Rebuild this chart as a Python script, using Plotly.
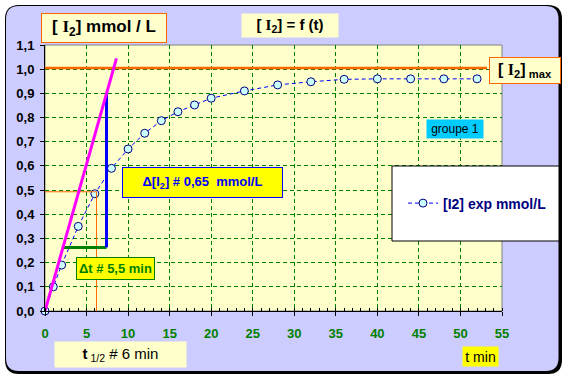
import plotly.graph_objects as go

# ---------------- data ----------------
t_min = [0, 1, 2, 4, 6, 8, 10, 12, 14, 16, 18, 20, 24, 28, 32, 36, 40, 44, 48, 52]
i2_exp = [0.0, 0.10, 0.19, 0.35, 0.485, 0.59, 0.67, 0.735, 0.787, 0.824, 0.852,
          0.88, 0.91, 0.935, 0.948, 0.958, 0.96, 0.96, 0.96, 0.96]

i2_max = 1.005
tangent_t = [0.0, 8.6]
tangent_c = [0.0, 1.045]
delta_c_t = [7.4, 7.4]
delta_c_c = [0.263, 0.9]
delta_t_t = [2.2, 7.4]
delta_t_c = [0.263, 0.263]
half_h_t = [-0.5, 6.2]
half_h_c = [0.493, 0.493]
half_v_t = [6.2, 6.2]
half_v_c = [0.493, -0.01]

x_range = [0, 55]
y_range = [0, 1.1]

# ---------------- geometry helpers (pixel -> paper) ----------------
W, H = 568, 380
L, R, T, B = 45, 502, 45, 311
PW, PH = R - L, B - T


def px(x):
    return (x - L) / PW


def py(y):
    return (B - y) / PH


def rrect(x0, y0, x1, y1, r):
    pts = [
        f"M {px(x0 + r)},{py(y0)}",
        f"L {px(x1 - r)},{py(y0)}",
        f"Q {px(x1)},{py(y0)} {px(x1)},{py(y0 + r)}",
        f"L {px(x1)},{py(y1 - r)}",
        f"Q {px(x1)},{py(y1)} {px(x1 - r)},{py(y1)}",
        f"L {px(x0 + r)},{py(y1)}",
        f"Q {px(x0)},{py(y1)} {px(x0)},{py(y1 - r)}",
        f"L {px(x0)},{py(y0 + r)}",
        f"Q {px(x0)},{py(y0)} {px(x0 + r)},{py(y0)}",
        "Z",
    ]
    return " ".join(pts)


FONT = "Liberation Sans"
SERIF_I = '<span style="font-family:\'Liberation Serif\'">I</span>'

fig = go.Figure()

# main data
fig.add_trace(go.Scatter(
    x=t_min, y=i2_exp, mode="lines+markers",
    name="<b>[I2] exp mmol/L</b>",
    line=dict(color="#0000FF", width=1, dash="4px,3px"),
    marker=dict(symbol="circle", size=8, color="#CCFFFF",
                line=dict(color="#000080", width=1)),
    cliponaxis=False,
))

# construction lines
fig.add_trace(go.Scatter(x=half_h_t, y=half_h_c, mode="lines", showlegend=False,
                         line=dict(color="#FF6600", width=1), cliponaxis=False))
fig.add_trace(go.Scatter(x=half_v_t, y=half_v_c, mode="lines", showlegend=False,
                         line=dict(color="#FF6600", width=1), cliponaxis=False))
fig.add_trace(go.Scatter(x=[x_range[0], 53.2], y=[i2_max, i2_max], mode="lines",
                         showlegend=False, line=dict(color="#FF6600", width=2.5),
                         cliponaxis=False))
fig.add_trace(go.Scatter(x=delta_t_t, y=delta_t_c, mode="lines", showlegend=False,
                         line=dict(color="#008000", width=3)))
fig.add_trace(go.Scatter(x=delta_c_t, y=delta_c_c, mode="lines", showlegend=False,
                         line=dict(color="#0000FF", width=3)))
fig.add_trace(go.Scatter(x=tangent_t, y=tangent_c, mode="lines", showlegend=False,
                         line=dict(color="#FF00FF", width=3), cliponaxis=False))

shapes = [
    # frame shadow / border
    dict(type="path", xref="paper", yref="paper", layer="below",
         path=rrect(5, 5, 562, 374, 14), fillcolor="black", line=dict(width=0)),
    dict(type="path", xref="paper", yref="paper", layer="below",
         path=rrect(6, 6, 558.5, 371, 13), fillcolor="#CCCCFF", line=dict(width=0)),
    # plot area
    dict(type="rect", xref="paper", yref="paper", layer="below",
         x0=0, y0=0, x1=1, y1=1, fillcolor="#FFFFCC",
         line=dict(color="#808080", width=1)),
    # legend box
    dict(type="rect", xref="paper", yref="paper", layer="above",
         x0=px(392), x1=px(559), y0=py(241), y1=py(166), fillcolor="white",
         line=dict(color="black", width=1)),
]


def box(text, cx, cy, w, h, size, color="black", bg="#FFFFCC", border=None):
    return dict(
        text=text, xref="paper", yref="paper", x=px(cx), y=py(cy),
        xanchor="center", yanchor="middle", showarrow=False,
        width=w - 2, height=h - 2, borderpad=0,
        bgcolor=bg, bordercolor=border if border else "rgba(0,0,0,0)",
        borderwidth=1, font=dict(family=FONT, size=size, color=color),
    )


annotations = [
    box(f"<b>[ {SERIF_I}<sub>2</sub>] mmol / L</b>", 104, 28, 126, 30, 17,
        border="#FF6600"),
    box(f"<b>[ {SERIF_I}<sub>2</sub>] = f (t)</b>", 290, 25.5, 98, 25, 15),
    box(f"<b>[ {SERIF_I}<sub>2</sub>]<sub> max</sub></b>", 525, 70.5, 72, 27, 16,
        border="#FF6600"),
    box("groupe 1", 455, 129, 58, 20, 12, bg="#00CCFF"),
    box("<b>Δ[I<sub>2</sub>] # 0,65  mmol/L</b>", 202.5, 182.5, 161, 31, 13,
        color="#0000FF", bg="#FFFF00", border="#0000FF"),
    box("<b>Δt # 5,5 min</b>", 115.5, 268.5, 79, 23, 13,
        color="#008000", bg="#FFFF00", border="#008000"),
    box("<b>t</b><sub> 1/2</sub> # 6 min", 120.5, 354.5, 133, 27, 15),
    box("t min", 480.5, 356.5, 37, 21, 14, bg="#FFFF00"),
]

fig.update_layout(
    width=W, height=H,
    margin=dict(l=L, r=W - R, t=T, b=H - B, pad=0),
    paper_bgcolor="white", plot_bgcolor="rgba(0,0,0,0)",
    separators=", ",
    font=dict(family=FONT, size=12, color="black"),
    shapes=shapes, annotations=annotations,
    showlegend=True,
    legend=dict(x=px(403), y=py(203.5), xanchor="left", yanchor="middle",
                bgcolor="rgba(0,0,0,0)", borderwidth=0,
                font=dict(family=FONT, size=14, color="#000080")),
)

fig.update_xaxes(
    range=x_range, dtick=5, tick0=0, showgrid=True, gridcolor="#008000",
    griddash="4px,3px", gridwidth=1, zeroline=False,
    showline=True, linecolor="black", linewidth=1,
    ticks="outside", ticklen=4, tickcolor="black",
    minor=dict(dtick=1, ticks="inside", ticklen=3, tickcolor="black", showgrid=False),
    tickfont=dict(family=FONT, size=13, color="#008000", weight="bold"),
    ticklabelstandoff=6,
)
fig.update_yaxes(
    range=y_range, dtick=0.1, tick0=0, tickformat=".1f",
    showgrid=True, gridcolor="#008000", griddash="4px,3px", gridwidth=1,
    zeroline=False, showline=True, linecolor="black", linewidth=1,
    ticks="outside", ticklen=4, tickcolor="black",
    tickfont=dict(family=FONT, size=13, color="black", weight="bold"),
    ticklabelstandoff=3,
)

fig.write_html("out.html",
               config={"displayModeBar": False},
               post_script="document.body.style.margin='0';"
                           "document.body.style.overflow='hidden';")
